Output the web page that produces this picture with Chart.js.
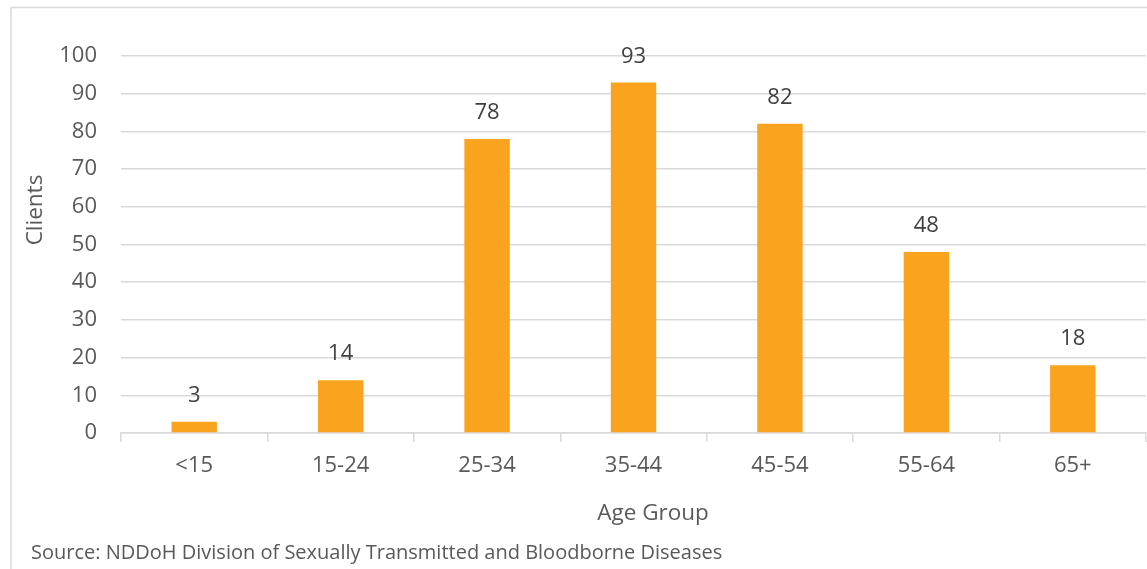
<!DOCTYPE html>
<html>
<head>
<meta charset="utf-8">
<script src="https://cdn.jsdelivr.net/npm/chart.js@4.4.1/dist/chart.umd.min.js"></script>
<style>
  html, body { margin: 0; padding: 0; background: #ffffff; }
  #wrap { position: relative; width: 1147px; height: 569px; overflow: hidden; }
  canvas { display: block; }
</style>
</head>
<body>
<div id="wrap"><canvas id="chart" width="1147" height="569"></canvas></div>
<script>
// Clients by age group
const ageGroups = ['<15', '15-24', '25-34', '35-44', '45-54', '55-64', '65+'];
const clients = [3, 14, 78, 93, 82, 48, 18];
const yTicks = [0, 10, 20, 30, 40, 50, 60, 70, 80, 90, 100];

const yAxisTitle = 'Clients';
const xAxisTitle = 'Age Group';
const sourceNote = 'Source: NDDoH Division of Sexually Transmitted and Bloodborne Diseases';

const FONT = '"Open Sans", "Noto Sans", sans-serif';
const BAR = '#F9A31E';
const GRID = '#D9D9D9';
const TEXT = '#595959';

// Frame, axis titles, source note and value labels
const decorations = {
  id: 'decorations',
  beforeDraw(chart) {
    const ctx = chart.ctx;
    ctx.save();
    ctx.strokeStyle = GRID;
    ctx.lineWidth = 1.5;
    ctx.strokeRect(11, 7.5, 1400, 800);
    ctx.restore();
  },
  afterDraw(chart) {
    const ctx = chart.ctx;
    const x = chart.scales.x;
    ctx.save();
    ctx.fillStyle = TEXT;
    ctx.textAlign = 'center';
    ctx.textBaseline = 'middle';
    ctx.font = '22.5px ' + FONT;
    ctx.fillText(xAxisTitle, 653, 514);

    ctx.save();
    ctx.translate(36, 210);
    ctx.rotate(-Math.PI / 2);
    ctx.fillText(yAxisTitle, 0, 0);
    ctx.restore();

    ctx.textAlign = 'left';
    ctx.font = '20px ' + FONT;
    ctx.fillText(sourceNote, 31, 553);

    // value labels above bars
    ctx.fillStyle = '#404040';
    ctx.textAlign = 'center';
    ctx.font = '22px ' + FONT;
    const meta = chart.getDatasetMeta(0);
    meta.data.forEach((bar, i) => {
      ctx.fillText(String(clients[i]), bar.x, bar.y - 26);
    });
    ctx.restore();
  }
};

new Chart(document.getElementById('chart'), {
  type: 'bar',
  data: {
    labels: ageGroups,
    datasets: [{
      data: clients,
      backgroundColor: BAR,
      borderWidth: 0,
      categoryPercentage: 1,
      barPercentage: 0.31
    }]
  },
  options: {
    responsive: false,
    animation: false,
    events: [],
    layout: { padding: { top: 56, right: 1, left: 0, bottom: 0 } },
    plugins: {
      legend: { display: false },
      tooltip: { enabled: false },
      title: { display: false }
    },
    scales: {
      x: {
        offset: true,
        grid: {
          offset: true,
          drawOnChartArea: false,
          drawTicks: true,
          tickLength: 9,
          color: GRID,
          lineWidth: 1.5
        },
        border: { display: true, color: GRID, width: 1.5 },
        ticks: {
          color: TEXT,
          font: { family: FONT, size: 22 },
          padding: 11,
          maxRotation: 0
        },
        afterFit(scale) { scale.height = 569 - 433; }
      },
      y: {
        min: 0,
        max: 100,
        afterBuildTicks(scale) { scale.ticks = yTicks.map(v => ({ value: v })); },
        grid: { color: GRID, lineWidth: 1.5, drawTicks: false },
        border: { display: false },
        ticks: {
          color: TEXT,
          font: { family: FONT, size: 22 },
          padding: 24
        },
        afterFit(scale) { scale.width = 121; }
      }
    }
  },
  plugins: [decorations]
});
</script>
</body>
</html>
